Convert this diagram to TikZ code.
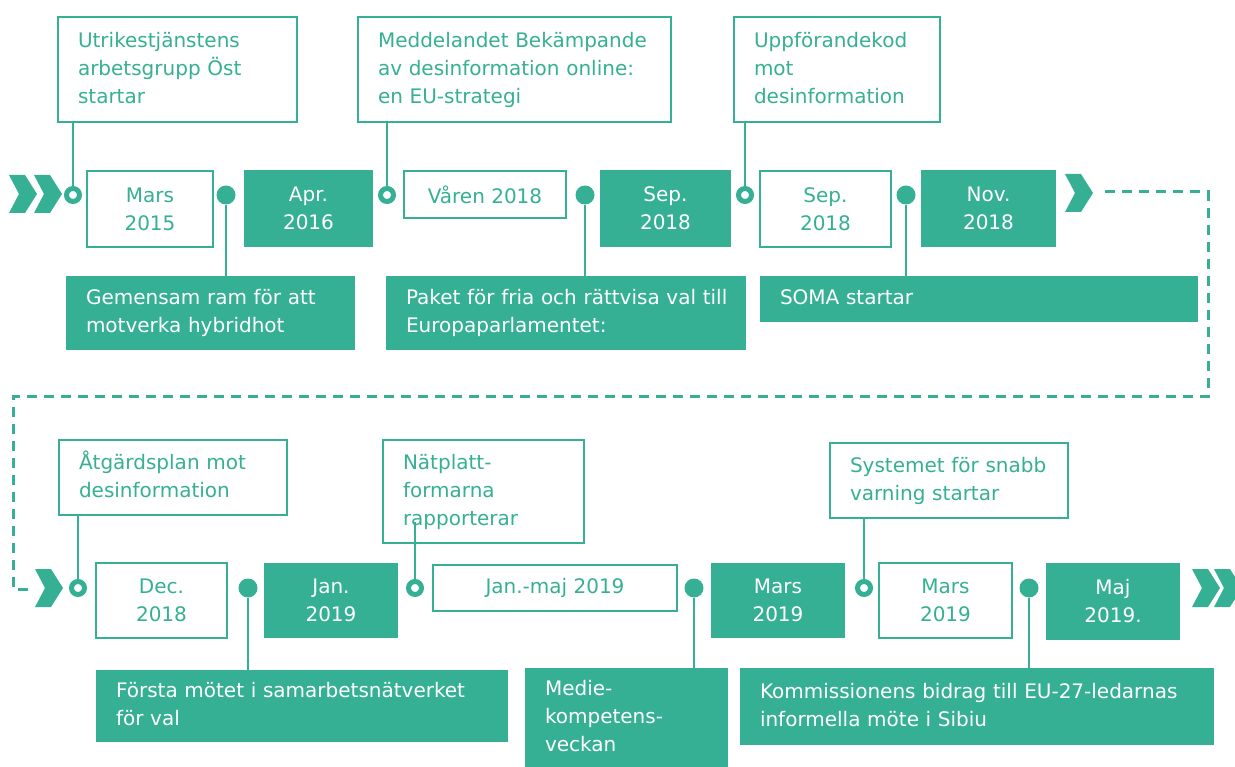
\documentclass[tikz,border=0pt]{standalone}
\usepackage{fontspec}
\setmainfont{DejaVu Sans}
\usepackage{tikz}

\definecolor{eugreen}{RGB}{54,176,148}
% lines of a note, kept on one line each
\newcommand{\notelines}[1]{\begin{tabular}{@{}l@{}}#1\end{tabular}}

\begin{document}
\begin{tikzpicture}[x=1pt,y=-1pt,
  font=\fontsize{20}{28}\selectfont,
  datebox/.style={draw=eugreen,line width=2pt,fill=white,text=eugreen,align=center,inner sep=0pt},
  datefill/.style={fill=eugreen,text=white,align=center,inner sep=0pt},
  notebox/.style={draw=eugreen,line width=2pt,fill=white,text=eugreen,align=left,inner xsep=20pt,inner ysep=0pt},
  notefill/.style={fill=eugreen,text=white,align=left,inner xsep=20pt,inner ysep=0pt},
  ring/.style={circle,draw=eugreen,line width=5pt,fill=white,minimum size=13pt,inner sep=0pt},
  dot/.style={circle,fill=eugreen,minimum size=19pt,inner sep=0pt},
  link/.style={draw=eugreen,line width=2pt},
  dashline/.style={draw=eugreen,line width=3pt,dash pattern=on 10pt off 7pt},
  chev/.pic={\fill[eugreen] (-28,-19) -- (-12,-19) -- (0,0) -- (-12,19) -- (-28,19) -- (-18,0) -- cycle;}
]
\useasboundingbox (0,0) rectangle (1235,767);

% first row
\pic at (37,194) {chev};
\pic at (62,194) {chev};
\pic at (1093,193) {chev};

\node [notebox,text width=199pt,minimum height=105pt] (utr) at (177.5,69.5) {\notelines{Utrikestjänstens\\arbetsgrupp Öst\\startar}};
\node [notebox,text width=273pt,minimum height=105pt] (med) at (514.5,69.5) {\notelines{Meddelandet Bekämpande\\av desinformation online:\\en EU-strategi}};
\node [notebox,text width=166pt,minimum height=105pt] (upp) at (837,69.5) {\notelines{Uppförandekod\\mot\\desinformation}};

\node [datebox,minimum width=126pt,minimum height=76pt] (mar15) at (150,209) {Mars\\2015};
\node [datefill,minimum width=129pt,minimum height=77pt] (apr16) at (308.5,208.5) {Apr.\\2016};
\node [datebox,minimum width=162pt,minimum height=47pt] (var18) at (485,194.5) {Våren 2018};
\node [datefill,minimum width=131pt,minimum height=77pt] (sep18a) at (665.5,208.5) {Sep.\\2018};
\node [datebox,minimum width=131pt,minimum height=76pt] (sep18b) at (825.5,209) {Sep.\\2018};
\node [datefill,minimum width=135pt,minimum height=77pt] (nov18) at (988.5,208.5) {Nov.\\2018};

\node [notefill,text width=249pt,minimum height=74pt] (gem) at (210.5,313) {\notelines{Gemensam ram för att\\motverka hybridhot}};
\node [notefill,text width=320pt,minimum height=74pt] (pak) at (566,313) {\notelines{Paket för fria och rättvisa val till\\Europaparlamentet:}};
\node [notefill,text width=398pt,minimum height=46pt] (soma) at (979,299) {\notelines{SOMA startar}};

\node [ring] (ra) at (73,195) {};
\node [ring] (rb) at (387,195) {};
\node [ring] (rc) at (745,195) {};
\node [dot] (pa) at (226,195) {};
\node [dot] (pb) at (585,195) {};
\node [dot] (pc) at (906,195) {};

\draw [link] (ra) -- (ra |- utr.south);
\draw [link] (rb) -- (rb |- med.south);
\draw [link] (rc) -- (rc |- upp.south);
\draw [link] (pa) -- (pa |- gem.north);
\draw [link] (pb) -- (pb |- pak.north);
\draw [link] (pc) -- (pc |- soma.north);

% dashed turn to the second row
\coordinate (endA) at (1105,192);
\coordinate (startB) at (35,589);
\draw [dashline] (endA) -- (1208,192) -- (1208,397) -- (13,397) -- (13,589) -- (startB);

% second row
\pic at (63,588) {chev};
\pic at (1220,588) {chev};
\pic at (1242,588) {chev};

\node [notebox,text width=188pt,minimum height=75pt] (atg) at (173,477.5) {\notelines{Åtgärdsplan mot\\desinformation}};
\node [notebox,text width=161pt,minimum height=103pt] (nat) at (483.5,491.5) {\notelines{Nätplatt-\\formarna\\rapporterar}};
\node [notebox,text width=198pt,minimum height=75pt] (sys) at (949,480.5) {\notelines{Systemet för snabb\\varning startar}};

\node [datebox,minimum width=131pt,minimum height=75pt] (dec18) at (161.5,600.5) {Dec.\\2018};
\node [datefill,minimum width=134pt,minimum height=75pt] (jan19) at (331,600.5) {Jan.\\2019};
\node [datebox,minimum width=244pt,minimum height=46pt] (janmaj) at (555,588) {Jan.-maj 2019};
\node [datefill,minimum width=134pt,minimum height=75pt] (mar19a) at (778,600.5) {Mars\\2019};
\node [datebox,minimum width=133pt,minimum height=75pt] (mar19b) at (945.5,600.5) {Mars\\2019};
\node [datefill,minimum width=134pt,minimum height=77pt] (maj19) at (1113,601.5) {Maj\\2019.};

\node [notefill,text width=372pt,minimum height=72pt] (forsta) at (302,706) {\notelines{Första mötet i samarbetsnätverket\\för val}};
\node [notefill,text width=163pt,minimum height=99pt] (medie) at (626.5,717.5) {\notelines{Medie-\\kompetens-\\veckan}};
\node [notefill,text width=434pt,minimum height=77pt] (kom) at (977,706.5) {\notelines{Kommissionens bidrag till EU-27-ledarnas\\informella möte i Sibiu}};

\node [ring] (sa) at (78,588) {};
\node [ring] (sb) at (415,588) {};
\node [ring] (sc) at (864,588) {};
\node [dot] (qa) at (248,588) {};
\node [dot] (qb) at (694,588) {};
\node [dot] (qc) at (1029,588) {};
\coordinate (natend) at (415,522);

\draw [link] (sa) -- (sa |- atg.south);
\draw [link] (sb) -- (natend);
\draw [link] (sc) -- (sc |- sys.south);
\draw [link] (qa) -- (qa |- forsta.north);
\draw [link] (qb) -- (qb |- medie.north);
\draw [link] (qc) -- (qc |- kom.north);
\end{tikzpicture}
\end{document}
